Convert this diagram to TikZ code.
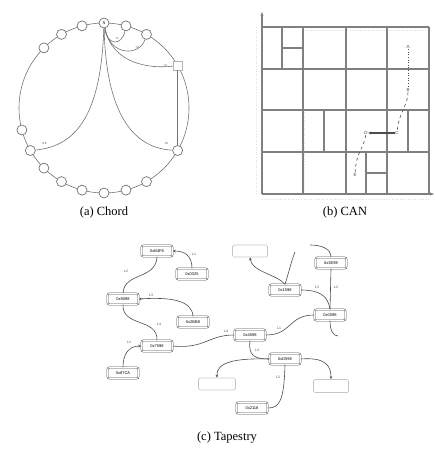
\documentclass[tikz,border=0pt]{standalone}
\usepackage{fontspec}
\setmainfont{Liberation Serif}
\setsansfont{Liberation Sans}
\usetikzlibrary{arrows.meta}
\definecolor{ln}{gray}{0.45}
\definecolor{gl}{gray}{0.5}
\definecolor{tl}{gray}{0.3}
\tikzset{
  cnode/.style={circle,draw=ln,fill=white,line width=0.7pt,minimum size=10pt,inner sep=0pt,font=\fontsize{4}{4}\selectfont},
  csq/.style={rectangle,draw=gray!60,fill=white,line width=0.7pt,minimum size=9pt,inner sep=0pt},
  cedge/.style={draw=ln,line width=0.6pt},
  clab/.style={font=\sffamily\fontsize{3}{3}\selectfont,text=tl,inner sep=0.5pt},
  gline/.style={draw=gl,line width=1.1pt},
  thickgline/.style={draw=gl,line width=2pt},
  canpt/.style={font=\sffamily\fontsize{4.5}{5}\selectfont,text=tl,inner sep=0.5pt},
  tbox/.style={rectangle,rounded corners=2pt,draw=tl,double=white,double distance=0.8pt,line width=0.5pt,minimum width=31pt,minimum height=11pt,inner sep=0pt,font=\sffamily\fontsize{4}{4}\selectfont},
  ebox/.style={rectangle,rounded corners=1.5pt,draw=gray!45,line width=0.7pt,minimum width=35pt,minimum height=12pt,inner sep=0pt},
  tedge/.style={draw=tl,line width=0.6pt},
  tlab/.style={font=\sffamily\fontsize{3.5}{3.5}\selectfont,text=tl,inner sep=0.5pt},
  captext/.style={font=\rmfamily\fontsize{12.5}{14}\selectfont,inner sep=0pt}
}
\begin{document}
\begin{tikzpicture}[x=1pt,y=-1pt]
\useasboundingbox (0,0) rectangle (435,449);
% ================= (a) Chord =================
\draw[cedge] (104,108) circle[radius=85];
\node[cnode] (c0) at ({104+85*cos(90)},{108-85*sin(90)}) {N};
\node[cnode] (c1) at ({104+85*cos(75)},{108-85*sin(75)}) {};
\node[cnode] (c2) at ({104+85*cos(60)},{108-85*sin(60)}) {};
\node[csq]   (c3) at ({104+85*cos(30)},{108-85*sin(30)}) {};
\node[cnode] (c4) at ({104+85*cos(-30)},{108-85*sin(-30)}) {};
\node[cnode] (c5) at ({104+85*cos(-60)},{108-85*sin(-60)}) {};
\node[cnode] (c6) at ({104+85*cos(-75)},{108-85*sin(-75)}) {};
\node[cnode] (c7) at ({104+85*cos(-90)},{108-85*sin(-90)}) {};
\node[cnode] (c8) at ({104+85*cos(-105)},{108-85*sin(-105)}) {};
\node[cnode] (c9) at ({104+85*cos(-120)},{108-85*sin(-120)}) {};
\node[cnode] (c10) at ({104+85*cos(-135)},{108-85*sin(-135)}) {};
\node[cnode] (c11) at ({104+85*cos(-150)},{108-85*sin(-150)}) {};
\node[cnode] (c12) at ({104+85*cos(-165)},{108-85*sin(-165)}) {};
\node[cnode] (c13) at ({104+85*cos(135)},{108-85*sin(135)}) {};
\node[cnode] (c14) at ({104+85*cos(120)},{108-85*sin(120)}) {};
\node[cnode] (c15) at ({104+85*cos(105)},{108-85*sin(105)}) {};
\draw[cedge] (c0) .. controls (107,46) and (122,46) .. (c1);
\draw[cedge] (c0) .. controls (110,57) and (140,56) .. (c2);
\draw[cedge] (c0) .. controls (112,64) and (150,69) .. (c3);
\draw[cedge] (c0) .. controls (106,112) and (132,148) .. (c4);
\draw[cedge] (c0) .. controls (101,112) and (78,146) .. (c11);
\draw[cedge] (c3) -- (c4);
\node[clab] (l1) at (117,38) {+1};
\node[clab] (l2) at (137,47) {+2};
\node[clab] (l3) at (165,65) {+4};
\node[clab] (l4) at (166,143) {+8};
\node[clab] (l5) at (44,143) {+16};
\node[captext] (capa) at (104,212) {(a) Chord};
% ================= (b) CAN =================
\draw[draw=gray!25,line width=0.6pt,dotted] (256,27) -- (256,194);
\draw[draw=gray!25,line width=0.6pt,dotted] (303,30) -- (429,30);
\draw[draw=gray!25,line width=0.6pt,dotted] (304,112) -- (304,192);
\draw[draw=gray!25,line width=0.6pt,dotted] (262,199) -- (429,199);
\foreach \x in {303,346,387,429} \draw[gline] (\x,27) -- (\x,194);
\foreach \y in {27,69,152} \draw[gline] (262,\y) -- (429,\y);
\draw[thickgline] (262,110) -- (429,110);
\draw[gline] (282,27) -- (282,69);
\draw[gline] (282,48) -- (303,48);
\draw[gline] (324,110) -- (324,152);
\draw[thickgline] (408,110) -- (408,152);
\draw[thickgline] (366,152) -- (366,194);
\draw[gline] (366,173) -- (387,173);
\draw[gline,-{Stealth[length=4pt,width=3pt]}] (262,194) -- (262,12);
\draw[gline,-{Stealth[length=4pt,width=3pt]}] (262,194) -- (434,194);
\node[canpt] (pA) at (408,47) {A};
\node[canpt] (pB) at (408,90) {B};
\node[canpt] (pC) at (397,133) {C};
\node[canpt] (pD) at (366,133) {D};
\node[canpt] (pE) at (355,175) {E};
\draw[draw=tl,line width=0.6pt,dotted] (pA) -- (pB);
\draw[draw=tl,line width=0.6pt,dashed] (pB) .. controls (408,105) and (399,112) .. (pC);
\draw[draw=tl,line width=1.2pt,-{Stealth[length=3pt,width=3pt]}] (pC) -- (pD);
\draw[draw=tl,line width=0.6pt,dashed] (pD) .. controls (364,148) and (356,152) .. (pE);
\node[captext] (capb) at (345,212) {(b) CAN};
% ================= (c) Tapestry =================
\node[tbox] (t1) at (157,251) {0xB4F8};
\node[tbox] (t2) at (192,274) {0x0325};
\node[tbox] (t3) at (123,299) {0x9098};
\node[tbox] (t4) at (193,322) {0x2BB8};
\node[tbox] (t5) at (157,346) {0x7598};
\node[tbox] (t6) at (123,373) {0x87CA};
\node[tbox] (t7) at (250,335) {0x4598};
\node[tbox] (t8) at (285,359) {0xD598};
\node[tbox] (t9) at (252,408) {0x2118};
\node[tbox] (t10) at (285,290) {0x1598};
\node[tbox] (t11) at (331,263) {0x3E98};
\node[tbox] (t12) at (330,315) {0x0098};
\node[ebox] (e1) at (250,251) {};
\node[ebox,minimum width=37pt] (e2) at (217,384) {};
\node[ebox,minimum height=13pt] (e3) at (331,386) {};
\coordinate (d1) at (310,245);
\coordinate (d2) at (295,252);
\coordinate (d3) at (338,336);
\draw[tedge,{Stealth[length=3pt,width=2.5pt]}-] (t1.east) .. controls (185,251) and (192,256) .. (t2.north);
\draw[tedge] (t1.south) .. controls (156,280) and (124,272) .. (t3.north);
\draw[tedge,{Stealth[length=3pt,width=2.5pt]}-] (t3.east) .. controls (170,297) and (192,300) .. (t4.north);
\draw[tedge] (t3.south) .. controls (122,327) and (158,318) .. (t5.north);
\draw[tedge,{Stealth[length=3pt,width=2.5pt]}-] (t5.west) .. controls (128,346) and (123,355) .. (t6.north);
\draw[tedge] (t5.east) .. controls (205,349) and (208,335) .. (t7.west);
\draw[tedge] (t7.south) .. controls (248,356) and (255,359) .. (t8.west);
\draw[tedge] (t8.south) .. controls (284,402) and (279,408) .. (t9.east);
\draw[tedge,-{Stealth[length=3pt,width=2.5pt]}] (t8.east) .. controls (326,357) and (331,366) .. (e3.north);
\draw[tedge,-{Stealth[length=3pt,width=2.5pt]}] (t8.west) .. controls (236,358) and (216,362) .. (e2.north);
\draw[tedge] (t7.east) .. controls (292,335) and (288,315) .. (t12.west);
\draw[tedge] (t10.east) .. controls (320,290) and (328,296) .. (t12.north);
\draw[tedge] (t11.south) -- (t12.north);
\draw[tedge] (t11.north) .. controls (331,248) and (320,245) .. (d1);
\draw[tedge,-{Stealth[length=3pt,width=2.5pt]}] (t10.north) .. controls (276,274) and (252,272) .. (e1.south);
\draw[tedge] (t10.north) .. controls (289,272) and (291,262) .. (d2);
\draw[tedge] (t12.south) .. controls (330,330) and (333,336) .. (d3);
\node[tlab] (k1) at (194,254) {L1};
\node[tlab] (k2) at (126,271) {L2};
\node[tlab] (k3) at (151,295) {L3};
\node[tlab] (k4) at (159,324) {L4};
\node[tlab] (k5) at (129,342) {L1};
\node[tlab] (k6) at (226,331) {L4};
\node[tlab] (k7) at (257,350) {L4};
\node[tlab] (k8) at (278,377) {L2};
\node[tlab] (k9) at (279,328) {L1};
\node[tlab] (k10) at (317,287) {L3};
\node[tlab] (k11) at (336,287) {L2};
\node[captext] (capc) at (227,438) {(c) Tapestry};
\end{tikzpicture}
\end{document}
